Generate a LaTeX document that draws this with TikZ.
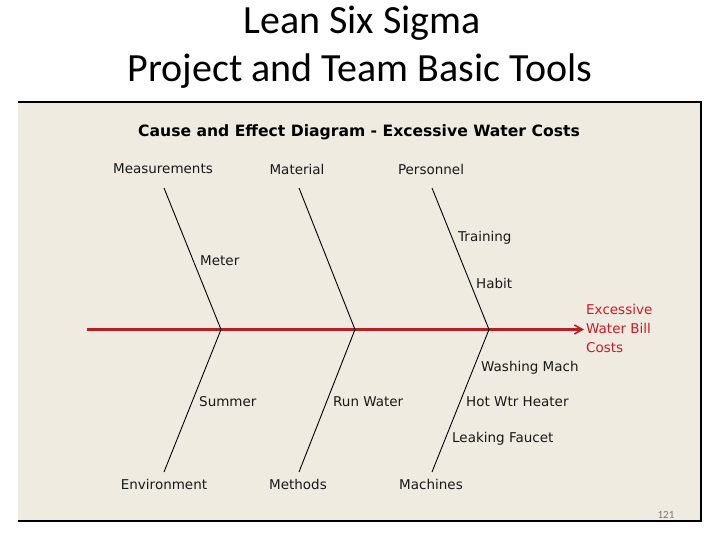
\documentclass[tikz,border=0pt]{standalone}
\usepackage{fontspec}
\setmainfont{Carlito}
\newfontfamily\diagfont{DejaVu Sans}
\usetikzlibrary{arrows.meta}
\definecolor{panelbg}{RGB}{239,235,225}
\definecolor{spinered}{RGB}{185,30,35}
\definecolor{effectred}{RGB}{205,25,40}
\definecolor{pagegray}{RGB}{120,120,120}
\tikzset{
  titletxt/.style={font=\fontsize{40}{40}\selectfont, inner sep=0pt},
  headtxt/.style={font=\diagfont\bfseries\fontsize{15.6}{16}\selectfont, inner sep=0pt},
  cattxt/.style={font=\diagfont\fontsize{13.5}{14}\selectfont, inner sep=0pt, text=black!90},
  subtxt/.style={font=\diagfont\fontsize{13.5}{14}\selectfont, inner sep=0pt, anchor=mid west, text=black!90, yshift=-2.5pt},
  efftxt/.style={font=\diagfont\fontsize{13.5}{14}\selectfont, inner sep=0pt, anchor=mid west, text=effectred, yshift=-2.5pt},
  bone/.style={draw=black, line width=0.9pt},
  spine/.style={draw=spinered, line width=2.2pt, -{Straight Barb[length=8pt,width=9pt,line width=1.6pt]}},
  border/.style={draw=black, line width=1.6pt}
}
\begin{document}
\begin{tikzpicture}[x=1pt,y=-1pt]
\useasboundingbox (0,0) rectangle (720,540);
% panel
\fill[panelbg] (18,102) rectangle (701,521);
\draw[border] (18,102) -- (701,102) -- (701,521) -- (18,521);
% titles
\node[titletxt] (t1) at (362,23) {Lean Six Sigma};
\node[titletxt] (t2) at (360,71) {Project and Team Basic Tools};
\node[headtxt] (head) at (359,132) {Cause and Effect Diagram - Excessive Water Costs};
% categories
\node[cattxt] (meas) at (163,169) {Measurements};
\node[cattxt] (mat) at (297,169) {Material};
\node[cattxt] (pers) at (431,169) {Personnel};
\node[cattxt] (env) at (164,484) {Environment};
\node[cattxt] (meth) at (298,484) {Methods};
\node[cattxt] (mach) at (431,484) {Machines};
% bone coordinates
\coordinate (u1) at (164,188);
\coordinate (u2) at (299,188);
\coordinate (u3) at (432,188);
\coordinate (j1) at (221,329.5);
\coordinate (j2) at (355,329.5);
\coordinate (j3) at (489,329.5);
\coordinate (d1) at (164,472);
\coordinate (d2) at (299,472);
\coordinate (d3) at (432,472);
\coordinate (s0) at (87,329.5);
\coordinate (s1) at (584,329.5);
% spine
\draw[spine] (s0) -- (s1);
% bones
\draw[bone] (u1) -- (j1) -- (d1);
\draw[bone] (u2) -- (j2) -- (d2);
\draw[bone] (u3) -- (j3) -- (d3);
% sub-causes
\node[subtxt] (meter) at (200,261) {Meter};
\node[subtxt] (train) at (458,237) {Training};
\node[subtxt] (habit) at (476,284) {Habit};
\node[subtxt] (wash) at (481,367) {Washing Mach};
\node[subtxt] (summer) at (199,402) {Summer};
\node[subtxt] (runw) at (333,402) {Run Water};
\node[subtxt] (hotw) at (466,402) {Hot Wtr Heater};
\node[subtxt] (leak) at (452,438) {Leaking Faucet};
% effect
\node[efftxt] (eff1) at (586,310) {Excessive};
\node[efftxt] (eff2) at (586,329) {Water Bill};
\node[efftxt] (eff3) at (586,348) {Costs};
% page number
\node[font=\fontsize{11}{11}\selectfont, text=pagegray, inner sep=0pt] (pg) at (666,515) {121};
\end{tikzpicture}
\end{document}
